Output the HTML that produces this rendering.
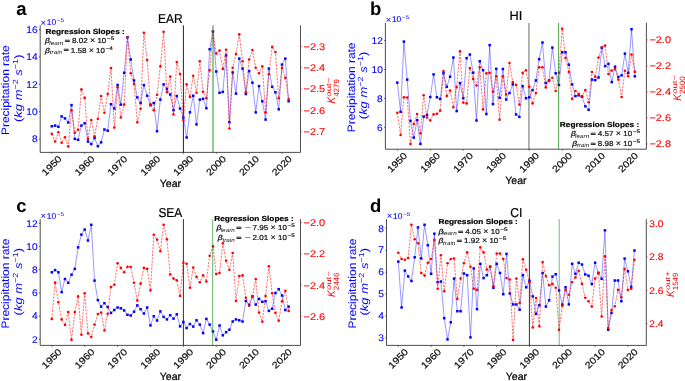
<!DOCTYPE html>
<html><head><meta charset="utf-8"><style>
html,body{margin:0;padding:0;background:#fff;}
svg{display:block;font-family:"Liberation Sans", sans-serif;will-change:transform;transform:translateZ(0);text-rendering:geometricPrecision;}
</style></head><body>
<svg width="685" height="381" viewBox="0 0 685 381">
<rect width="685" height="381" fill="#fff"/>
<line x1="183.40" y1="25.3" x2="183.40" y2="152.4" stroke="#222" stroke-width="1"/>
<polyline points="51.80,126.30 55.09,125.60 58.38,126.80 61.67,116.40 64.96,118.40 68.25,122.50 71.53,105.10 74.82,138.90 78.11,139.80 81.40,125.60 84.69,123.20 87.98,141.50 91.27,144.00 94.56,138.00 97.85,146.20 101.13,142.30 104.42,129.50 107.71,130.70 111.00,104.20 114.29,108.50 117.58,85.00 120.87,104.60 124.16,72.80 127.45,37.30 130.74,59.50 134.03,80.50 137.31,97.40 140.60,103.00 143.89,85.10 147.18,95.70 150.47,105.20 153.76,103.00 157.05,131.20 160.34,99.60 163.63,84.40 166.92,89.00 170.20,94.50 173.49,110.20 176.78,96.00 180.07,108.50 183.36,117.50 186.65,137.50 189.94,112.30 193.23,95.70 196.52,124.40 199.81,99.60 203.09,98.80 206.38,108.20 209.67,49.30 212.96,31.50 216.25,71.50 219.54,92.80 222.83,91.90 226.12,55.40 229.41,122.20 232.69,72.50 235.98,93.60 239.27,58.60 242.56,68.60 245.85,94.00 249.14,71.10 252.43,82.70 255.72,112.40 259.01,86.10 262.30,101.30 265.58,119.60 268.87,68.60 272.16,86.80 275.45,92.30 278.74,109.30 282.03,64.60 285.32,58.60 288.61,101.30" fill="none" stroke="#0000ff" stroke-opacity="0.5" stroke-width="0.8" stroke-linejoin="round"/>
<g fill="#0000ff"><rect x="50.55" y="125.05" width="2.5" height="2.5"/><rect x="53.84" y="124.35" width="2.5" height="2.5"/><rect x="57.13" y="125.55" width="2.5" height="2.5"/><rect x="60.42" y="115.15" width="2.5" height="2.5"/><rect x="63.71" y="117.15" width="2.5" height="2.5"/><rect x="67.00" y="121.25" width="2.5" height="2.5"/><rect x="70.28" y="103.85" width="2.5" height="2.5"/><rect x="73.57" y="137.65" width="2.5" height="2.5"/><rect x="76.86" y="138.55" width="2.5" height="2.5"/><rect x="80.15" y="124.35" width="2.5" height="2.5"/><rect x="83.44" y="121.95" width="2.5" height="2.5"/><rect x="86.73" y="140.25" width="2.5" height="2.5"/><rect x="90.02" y="142.75" width="2.5" height="2.5"/><rect x="93.31" y="136.75" width="2.5" height="2.5"/><rect x="96.60" y="144.95" width="2.5" height="2.5"/><rect x="99.88" y="141.05" width="2.5" height="2.5"/><rect x="103.17" y="128.25" width="2.5" height="2.5"/><rect x="106.46" y="129.45" width="2.5" height="2.5"/><rect x="109.75" y="102.95" width="2.5" height="2.5"/><rect x="113.04" y="107.25" width="2.5" height="2.5"/><rect x="116.33" y="83.75" width="2.5" height="2.5"/><rect x="119.62" y="103.35" width="2.5" height="2.5"/><rect x="122.91" y="71.55" width="2.5" height="2.5"/><rect x="126.20" y="36.05" width="2.5" height="2.5"/><rect x="129.49" y="58.25" width="2.5" height="2.5"/><rect x="132.78" y="79.25" width="2.5" height="2.5"/><rect x="136.06" y="96.15" width="2.5" height="2.5"/><rect x="139.35" y="101.75" width="2.5" height="2.5"/><rect x="142.64" y="83.85" width="2.5" height="2.5"/><rect x="145.93" y="94.45" width="2.5" height="2.5"/><rect x="149.22" y="103.95" width="2.5" height="2.5"/><rect x="152.51" y="101.75" width="2.5" height="2.5"/><rect x="155.80" y="129.95" width="2.5" height="2.5"/><rect x="159.09" y="98.35" width="2.5" height="2.5"/><rect x="162.38" y="83.15" width="2.5" height="2.5"/><rect x="165.67" y="87.75" width="2.5" height="2.5"/><rect x="168.95" y="93.25" width="2.5" height="2.5"/><rect x="172.24" y="108.95" width="2.5" height="2.5"/><rect x="175.53" y="94.75" width="2.5" height="2.5"/><rect x="178.82" y="107.25" width="2.5" height="2.5"/><rect x="182.11" y="116.25" width="2.5" height="2.5"/><rect x="185.40" y="136.25" width="2.5" height="2.5"/><rect x="188.69" y="111.05" width="2.5" height="2.5"/><rect x="191.98" y="94.45" width="2.5" height="2.5"/><rect x="195.27" y="123.15" width="2.5" height="2.5"/><rect x="198.56" y="98.35" width="2.5" height="2.5"/><rect x="201.84" y="97.55" width="2.5" height="2.5"/><rect x="205.13" y="106.95" width="2.5" height="2.5"/><rect x="208.42" y="48.05" width="2.5" height="2.5"/><rect x="211.71" y="30.25" width="2.5" height="2.5"/><rect x="215.00" y="70.25" width="2.5" height="2.5"/><rect x="218.29" y="91.55" width="2.5" height="2.5"/><rect x="221.58" y="90.65" width="2.5" height="2.5"/><rect x="224.87" y="54.15" width="2.5" height="2.5"/><rect x="228.16" y="120.95" width="2.5" height="2.5"/><rect x="231.44" y="71.25" width="2.5" height="2.5"/><rect x="234.73" y="92.35" width="2.5" height="2.5"/><rect x="238.02" y="57.35" width="2.5" height="2.5"/><rect x="241.31" y="67.35" width="2.5" height="2.5"/><rect x="244.60" y="92.75" width="2.5" height="2.5"/><rect x="247.89" y="69.85" width="2.5" height="2.5"/><rect x="251.18" y="81.45" width="2.5" height="2.5"/><rect x="254.47" y="111.15" width="2.5" height="2.5"/><rect x="257.76" y="84.85" width="2.5" height="2.5"/><rect x="261.05" y="100.05" width="2.5" height="2.5"/><rect x="264.33" y="118.35" width="2.5" height="2.5"/><rect x="267.62" y="67.35" width="2.5" height="2.5"/><rect x="270.91" y="85.55" width="2.5" height="2.5"/><rect x="274.20" y="91.05" width="2.5" height="2.5"/><rect x="277.49" y="108.05" width="2.5" height="2.5"/><rect x="280.78" y="63.35" width="2.5" height="2.5"/><rect x="284.07" y="57.35" width="2.5" height="2.5"/><rect x="287.36" y="100.05" width="2.5" height="2.5"/></g>
<polyline points="51.80,133.90 55.09,141.50 58.38,132.20 61.67,142.80 64.96,137.20 68.25,146.40 71.53,110.20 74.82,132.70 78.11,129.80 81.40,89.40 84.69,97.90 87.98,138.90 91.27,120.10 94.56,136.30 97.85,118.70 101.13,96.00 104.42,112.80 107.71,94.00 111.00,68.00 114.29,127.60 117.58,87.30 120.87,117.50 124.16,104.60 127.45,37.00 130.74,73.30 134.03,83.90 137.31,122.20 140.60,108.80 143.89,32.70 147.18,60.00 150.47,104.40 153.76,110.20 157.05,94.80 160.34,66.30 163.63,31.80 166.92,92.30 170.20,76.60 173.49,114.50 176.78,62.10 180.07,74.00 183.36,120.10 186.65,84.30 189.94,96.90 193.23,75.80 196.52,92.80 199.81,61.30 203.09,91.80 206.38,98.20 209.67,70.30 212.96,31.50 216.25,53.60 219.54,50.60 222.83,68.90 226.12,49.80 229.41,128.50 232.69,67.70 235.98,54.00 239.27,34.40 242.56,61.20 245.85,92.30 249.14,59.50 252.43,50.10 255.72,67.70 259.01,73.30 262.30,66.30 265.58,112.40 268.87,74.20 272.16,46.90 275.45,52.00 278.74,98.20 282.03,67.70 285.32,77.90 288.61,99.10" fill="none" stroke="#ff0000" stroke-opacity="0.7" stroke-width="0.8" stroke-dasharray="2.2 1.2"/>
<g fill="#ff0000"><circle cx="51.80" cy="133.90" r="1.3"/><circle cx="55.09" cy="141.50" r="1.3"/><circle cx="58.38" cy="132.20" r="1.3"/><circle cx="61.67" cy="142.80" r="1.3"/><circle cx="64.96" cy="137.20" r="1.3"/><circle cx="68.25" cy="146.40" r="1.3"/><circle cx="71.53" cy="110.20" r="1.3"/><circle cx="74.82" cy="132.70" r="1.3"/><circle cx="78.11" cy="129.80" r="1.3"/><circle cx="81.40" cy="89.40" r="1.3"/><circle cx="84.69" cy="97.90" r="1.3"/><circle cx="87.98" cy="138.90" r="1.3"/><circle cx="91.27" cy="120.10" r="1.3"/><circle cx="94.56" cy="136.30" r="1.3"/><circle cx="97.85" cy="118.70" r="1.3"/><circle cx="101.13" cy="96.00" r="1.3"/><circle cx="104.42" cy="112.80" r="1.3"/><circle cx="107.71" cy="94.00" r="1.3"/><circle cx="111.00" cy="68.00" r="1.3"/><circle cx="114.29" cy="127.60" r="1.3"/><circle cx="117.58" cy="87.30" r="1.3"/><circle cx="120.87" cy="117.50" r="1.3"/><circle cx="124.16" cy="104.60" r="1.3"/><circle cx="127.45" cy="37.00" r="1.3"/><circle cx="130.74" cy="73.30" r="1.3"/><circle cx="134.03" cy="83.90" r="1.3"/><circle cx="137.31" cy="122.20" r="1.3"/><circle cx="140.60" cy="108.80" r="1.3"/><circle cx="143.89" cy="32.70" r="1.3"/><circle cx="147.18" cy="60.00" r="1.3"/><circle cx="150.47" cy="104.40" r="1.3"/><circle cx="153.76" cy="110.20" r="1.3"/><circle cx="157.05" cy="94.80" r="1.3"/><circle cx="160.34" cy="66.30" r="1.3"/><circle cx="163.63" cy="31.80" r="1.3"/><circle cx="166.92" cy="92.30" r="1.3"/><circle cx="170.20" cy="76.60" r="1.3"/><circle cx="173.49" cy="114.50" r="1.3"/><circle cx="176.78" cy="62.10" r="1.3"/><circle cx="180.07" cy="74.00" r="1.3"/><circle cx="183.36" cy="120.10" r="1.3"/><circle cx="186.65" cy="84.30" r="1.3"/><circle cx="189.94" cy="96.90" r="1.3"/><circle cx="193.23" cy="75.80" r="1.3"/><circle cx="196.52" cy="92.80" r="1.3"/><circle cx="199.81" cy="61.30" r="1.3"/><circle cx="203.09" cy="91.80" r="1.3"/><circle cx="206.38" cy="98.20" r="1.3"/><circle cx="209.67" cy="70.30" r="1.3"/><circle cx="212.96" cy="31.50" r="1.3"/><circle cx="216.25" cy="53.60" r="1.3"/><circle cx="219.54" cy="50.60" r="1.3"/><circle cx="222.83" cy="68.90" r="1.3"/><circle cx="226.12" cy="49.80" r="1.3"/><circle cx="229.41" cy="128.50" r="1.3"/><circle cx="232.69" cy="67.70" r="1.3"/><circle cx="235.98" cy="54.00" r="1.3"/><circle cx="239.27" cy="34.40" r="1.3"/><circle cx="242.56" cy="61.20" r="1.3"/><circle cx="245.85" cy="92.30" r="1.3"/><circle cx="249.14" cy="59.50" r="1.3"/><circle cx="252.43" cy="50.10" r="1.3"/><circle cx="255.72" cy="67.70" r="1.3"/><circle cx="259.01" cy="73.30" r="1.3"/><circle cx="262.30" cy="66.30" r="1.3"/><circle cx="265.58" cy="112.40" r="1.3"/><circle cx="268.87" cy="74.20" r="1.3"/><circle cx="272.16" cy="46.90" r="1.3"/><circle cx="275.45" cy="52.00" r="1.3"/><circle cx="278.74" cy="98.20" r="1.3"/><circle cx="282.03" cy="67.70" r="1.3"/><circle cx="285.32" cy="77.90" r="1.3"/><circle cx="288.61" cy="99.10" r="1.3"/></g>
<line x1="213.00" y1="25.3" x2="213.00" y2="152.4" stroke="#008000" stroke-opacity="0.42" stroke-width="2.1"/>
<path d="M40.2,25.3 V152.4 H300.5 V25.3" fill="none" stroke="#3a3a3a" stroke-width="0.9"/>
<line x1="51.80" y1="152.4" x2="51.80" y2="153.9" stroke="#333" stroke-width="0.7"/>
<text x="51.80" y="165.70" font-size="9.3" fill="#111" text-anchor="middle" stroke="#111" stroke-width="0.22" textLength="23.67" lengthAdjust="spacingAndGlyphs" transform="rotate(-45 51.80 165.70)" dominant-baseline="central">1950</text>
<line x1="84.69" y1="152.4" x2="84.69" y2="153.9" stroke="#333" stroke-width="0.7"/>
<text x="84.69" y="165.70" font-size="9.3" fill="#111" text-anchor="middle" stroke="#111" stroke-width="0.22" textLength="23.67" lengthAdjust="spacingAndGlyphs" transform="rotate(-45 84.69 165.70)" dominant-baseline="central">1960</text>
<line x1="117.58" y1="152.4" x2="117.58" y2="153.9" stroke="#333" stroke-width="0.7"/>
<text x="117.58" y="165.70" font-size="9.3" fill="#111" text-anchor="middle" stroke="#111" stroke-width="0.22" textLength="23.67" lengthAdjust="spacingAndGlyphs" transform="rotate(-45 117.58 165.70)" dominant-baseline="central">1970</text>
<line x1="150.47" y1="152.4" x2="150.47" y2="153.9" stroke="#333" stroke-width="0.7"/>
<text x="150.47" y="165.70" font-size="9.3" fill="#111" text-anchor="middle" stroke="#111" stroke-width="0.22" textLength="23.67" lengthAdjust="spacingAndGlyphs" transform="rotate(-45 150.47 165.70)" dominant-baseline="central">1980</text>
<line x1="183.36" y1="152.4" x2="183.36" y2="153.9" stroke="#333" stroke-width="0.7"/>
<text x="183.36" y="165.70" font-size="9.3" fill="#111" text-anchor="middle" stroke="#111" stroke-width="0.22" textLength="23.67" lengthAdjust="spacingAndGlyphs" transform="rotate(-45 183.36 165.70)" dominant-baseline="central">1990</text>
<line x1="216.25" y1="152.4" x2="216.25" y2="153.9" stroke="#333" stroke-width="0.7"/>
<text x="216.25" y="165.70" font-size="9.3" fill="#111" text-anchor="middle" stroke="#111" stroke-width="0.22" textLength="23.67" lengthAdjust="spacingAndGlyphs" transform="rotate(-45 216.25 165.70)" dominant-baseline="central">2000</text>
<line x1="249.14" y1="152.4" x2="249.14" y2="153.9" stroke="#333" stroke-width="0.7"/>
<text x="249.14" y="165.70" font-size="9.3" fill="#111" text-anchor="middle" stroke="#111" stroke-width="0.22" textLength="23.67" lengthAdjust="spacingAndGlyphs" transform="rotate(-45 249.14 165.70)" dominant-baseline="central">2010</text>
<line x1="282.03" y1="152.4" x2="282.03" y2="153.9" stroke="#333" stroke-width="0.7"/>
<text x="282.03" y="165.70" font-size="9.3" fill="#111" text-anchor="middle" stroke="#111" stroke-width="0.22" textLength="23.67" lengthAdjust="spacingAndGlyphs" transform="rotate(-45 282.03 165.70)" dominant-baseline="central">2020</text>
<line x1="39.0" y1="139.10" x2="40.2" y2="139.10" stroke="#0000ff" stroke-width="0.7"/>
<text x="37.60" y="142.30" font-size="9.7" fill="#0000ff" text-anchor="end" stroke="#0000ff" stroke-width="0.12" textLength="5.66" lengthAdjust="spacingAndGlyphs">8</text>
<line x1="39.0" y1="111.72" x2="40.2" y2="111.72" stroke="#0000ff" stroke-width="0.7"/>
<text x="37.60" y="114.92" font-size="9.7" fill="#0000ff" text-anchor="end" stroke="#0000ff" stroke-width="0.12" textLength="11.33" lengthAdjust="spacingAndGlyphs">10</text>
<line x1="39.0" y1="84.35" x2="40.2" y2="84.35" stroke="#0000ff" stroke-width="0.7"/>
<text x="37.60" y="87.55" font-size="9.7" fill="#0000ff" text-anchor="end" stroke="#0000ff" stroke-width="0.12" textLength="11.33" lengthAdjust="spacingAndGlyphs">12</text>
<line x1="39.0" y1="56.98" x2="40.2" y2="56.98" stroke="#0000ff" stroke-width="0.7"/>
<text x="37.60" y="60.18" font-size="9.7" fill="#0000ff" text-anchor="end" stroke="#0000ff" stroke-width="0.12" textLength="11.33" lengthAdjust="spacingAndGlyphs">14</text>
<line x1="39.0" y1="29.60" x2="40.2" y2="29.60" stroke="#0000ff" stroke-width="0.7"/>
<text x="37.60" y="32.80" font-size="9.7" fill="#0000ff" text-anchor="end" stroke="#0000ff" stroke-width="0.12" textLength="11.33" lengthAdjust="spacingAndGlyphs">16</text>
<line x1="300.5" y1="46.30" x2="301.7" y2="46.30" stroke="#ff0000" stroke-width="0.7"/>
<text x="303.50" y="49.80" font-size="9.7" fill="#ff0000" text-anchor="start" stroke="#ff0000" stroke-width="0.12" textLength="21.61" lengthAdjust="spacingAndGlyphs">−2.3</text>
<line x1="300.5" y1="67.62" x2="301.7" y2="67.62" stroke="#ff0000" stroke-width="0.7"/>
<text x="303.50" y="71.12" font-size="9.7" fill="#ff0000" text-anchor="start" stroke="#ff0000" stroke-width="0.12" textLength="21.61" lengthAdjust="spacingAndGlyphs">−2.4</text>
<line x1="300.5" y1="88.95" x2="301.7" y2="88.95" stroke="#ff0000" stroke-width="0.7"/>
<text x="303.50" y="92.45" font-size="9.7" fill="#ff0000" text-anchor="start" stroke="#ff0000" stroke-width="0.12" textLength="21.61" lengthAdjust="spacingAndGlyphs">−2.5</text>
<line x1="300.5" y1="110.27" x2="301.7" y2="110.27" stroke="#ff0000" stroke-width="0.7"/>
<text x="303.50" y="113.77" font-size="9.7" fill="#ff0000" text-anchor="start" stroke="#ff0000" stroke-width="0.12" textLength="21.61" lengthAdjust="spacingAndGlyphs">−2.6</text>
<line x1="300.5" y1="131.60" x2="301.7" y2="131.60" stroke="#ff0000" stroke-width="0.7"/>
<text x="303.50" y="135.10" font-size="9.7" fill="#ff0000" text-anchor="start" stroke="#ff0000" stroke-width="0.12" textLength="21.61" lengthAdjust="spacingAndGlyphs">−2.7</text>
<text x="170.35" y="22.70" font-size="12.9" fill="#000" text-anchor="middle" stroke="#000" stroke-width="0.22" textLength="24.53" lengthAdjust="spacingAndGlyphs">EAR</text>
<text x="170.35" y="186.80" font-size="10.6" fill="#000" text-anchor="middle" stroke="#000" stroke-width="0.22">Year</text>
<text x="16.20" y="14.80" font-size="18.5" fill="#000" text-anchor="start" font-weight="bold">a</text>
<text x="40.50" y="25.50" font-size="9.6" fill="#0000ff" textLength="5.6" lengthAdjust="spacingAndGlyphs">×</text>
<text x="46.70" y="24.70" font-size="8.4" fill="#0000ff" stroke="#0000ff" stroke-width="0.1" textLength="9.4" lengthAdjust="spacingAndGlyphs">10</text>
<text x="56.60" y="21.80" font-size="5.6" fill="#0000ff" textLength="7.6" lengthAdjust="spacingAndGlyphs">−5</text>
<text x="9.40" y="90.15" font-size="10.8" fill="#0000ff" text-anchor="middle" stroke="#0000ff" stroke-width="0.05" textLength="89.80" lengthAdjust="spacingAndGlyphs" transform="rotate(-90 9.40 90.15)">Precipitation rate</text>
<text x="22.00" y="88.25" font-size="10.8" fill="#0000ff" text-anchor="middle" textLength="67.5" lengthAdjust="spacingAndGlyphs" transform="rotate(-90 22.00 88.25)">(<tspan font-style="italic">kg m</tspan><tspan font-size="7.5" dy="-4">−2</tspan><tspan dy="4"> </tspan><tspan font-style="italic">s</tspan><tspan font-size="7.5" dy="-4">−1</tspan><tspan dy="4">)</tspan></text>
<g transform="translate(335.00 88.85) rotate(-90)" fill="#ff0000"><text x="-14.6" y="0" font-size="11" font-style="italic" textLength="6.6" lengthAdjust="spacingAndGlyphs">K</text><text x="-7.8" y="-4.3" font-size="6.6" textLength="19.0" lengthAdjust="spacingAndGlyphs">out−</text><text x="-8.0" y="3.9" font-size="7.7" textLength="17.8" lengthAdjust="spacingAndGlyphs">4279</text></g>
<line x1="528.90" y1="22.9" x2="528.90" y2="149.2" stroke="#8c8c8c" stroke-width="1.3"/>
<polyline points="397.30,82.60 400.60,111.80 403.90,41.60 407.20,79.60 410.50,120.90 413.80,137.60 417.09,120.00 420.39,143.90 423.69,116.60 426.99,114.90 430.29,97.00 433.59,74.40 436.89,97.30 440.19,99.00 443.49,73.20 446.79,86.80 450.08,76.70 453.38,57.50 456.68,111.10 459.98,83.10 463.28,98.30 466.58,58.20 469.88,54.50 473.18,72.70 476.48,120.50 479.77,61.30 483.07,70.20 486.37,114.00 489.67,45.10 492.97,104.10 496.27,68.80 499.57,97.80 502.87,69.00 506.17,99.50 509.47,93.00 512.76,84.30 516.06,114.40 519.36,116.90 522.66,86.20 525.96,98.30 529.26,97.30 532.56,90.10 535.86,80.50 539.16,59.20 542.46,42.50 545.75,83.10 549.05,80.60 552.35,47.60 555.65,73.30 558.95,85.00 562.25,52.30 565.55,52.30 568.85,64.70 572.15,84.40 575.45,96.10 578.75,95.30 582.04,96.80 585.34,106.30 588.64,109.80 591.94,79.60 595.24,80.10 598.54,77.50 601.84,47.80 605.14,66.10 608.44,63.80 611.74,82.10 615.03,66.70 618.33,77.00 621.63,75.30 624.93,53.60 628.23,72.90 631.53,29.20 634.83,76.30" fill="none" stroke="#0000ff" stroke-opacity="0.5" stroke-width="0.8" stroke-linejoin="round"/>
<g fill="#0000ff"><rect x="396.05" y="81.35" width="2.5" height="2.5"/><rect x="399.35" y="110.55" width="2.5" height="2.5"/><rect x="402.65" y="40.35" width="2.5" height="2.5"/><rect x="405.95" y="78.35" width="2.5" height="2.5"/><rect x="409.25" y="119.65" width="2.5" height="2.5"/><rect x="412.55" y="136.35" width="2.5" height="2.5"/><rect x="415.84" y="118.75" width="2.5" height="2.5"/><rect x="419.14" y="142.65" width="2.5" height="2.5"/><rect x="422.44" y="115.35" width="2.5" height="2.5"/><rect x="425.74" y="113.65" width="2.5" height="2.5"/><rect x="429.04" y="95.75" width="2.5" height="2.5"/><rect x="432.34" y="73.15" width="2.5" height="2.5"/><rect x="435.64" y="96.05" width="2.5" height="2.5"/><rect x="438.94" y="97.75" width="2.5" height="2.5"/><rect x="442.24" y="71.95" width="2.5" height="2.5"/><rect x="445.54" y="85.55" width="2.5" height="2.5"/><rect x="448.83" y="75.45" width="2.5" height="2.5"/><rect x="452.13" y="56.25" width="2.5" height="2.5"/><rect x="455.43" y="109.85" width="2.5" height="2.5"/><rect x="458.73" y="81.85" width="2.5" height="2.5"/><rect x="462.03" y="97.05" width="2.5" height="2.5"/><rect x="465.33" y="56.95" width="2.5" height="2.5"/><rect x="468.63" y="53.25" width="2.5" height="2.5"/><rect x="471.93" y="71.45" width="2.5" height="2.5"/><rect x="475.23" y="119.25" width="2.5" height="2.5"/><rect x="478.52" y="60.05" width="2.5" height="2.5"/><rect x="481.82" y="68.95" width="2.5" height="2.5"/><rect x="485.12" y="112.75" width="2.5" height="2.5"/><rect x="488.42" y="43.85" width="2.5" height="2.5"/><rect x="491.72" y="102.85" width="2.5" height="2.5"/><rect x="495.02" y="67.55" width="2.5" height="2.5"/><rect x="498.32" y="96.55" width="2.5" height="2.5"/><rect x="501.62" y="67.75" width="2.5" height="2.5"/><rect x="504.92" y="98.25" width="2.5" height="2.5"/><rect x="508.22" y="91.75" width="2.5" height="2.5"/><rect x="511.51" y="83.05" width="2.5" height="2.5"/><rect x="514.81" y="113.15" width="2.5" height="2.5"/><rect x="518.11" y="115.65" width="2.5" height="2.5"/><rect x="521.41" y="84.95" width="2.5" height="2.5"/><rect x="524.71" y="97.05" width="2.5" height="2.5"/><rect x="528.01" y="96.05" width="2.5" height="2.5"/><rect x="531.31" y="88.85" width="2.5" height="2.5"/><rect x="534.61" y="79.25" width="2.5" height="2.5"/><rect x="537.91" y="57.95" width="2.5" height="2.5"/><rect x="541.21" y="41.25" width="2.5" height="2.5"/><rect x="544.50" y="81.85" width="2.5" height="2.5"/><rect x="547.80" y="79.35" width="2.5" height="2.5"/><rect x="551.10" y="46.35" width="2.5" height="2.5"/><rect x="554.40" y="72.05" width="2.5" height="2.5"/><rect x="557.70" y="83.75" width="2.5" height="2.5"/><rect x="561.00" y="51.05" width="2.5" height="2.5"/><rect x="564.30" y="51.05" width="2.5" height="2.5"/><rect x="567.60" y="63.45" width="2.5" height="2.5"/><rect x="570.90" y="83.15" width="2.5" height="2.5"/><rect x="574.20" y="94.85" width="2.5" height="2.5"/><rect x="577.50" y="94.05" width="2.5" height="2.5"/><rect x="580.79" y="95.55" width="2.5" height="2.5"/><rect x="584.09" y="105.05" width="2.5" height="2.5"/><rect x="587.39" y="108.55" width="2.5" height="2.5"/><rect x="590.69" y="78.35" width="2.5" height="2.5"/><rect x="593.99" y="78.85" width="2.5" height="2.5"/><rect x="597.29" y="76.25" width="2.5" height="2.5"/><rect x="600.59" y="46.55" width="2.5" height="2.5"/><rect x="603.89" y="64.85" width="2.5" height="2.5"/><rect x="607.19" y="62.55" width="2.5" height="2.5"/><rect x="610.49" y="80.85" width="2.5" height="2.5"/><rect x="613.78" y="65.45" width="2.5" height="2.5"/><rect x="617.08" y="75.75" width="2.5" height="2.5"/><rect x="620.38" y="74.05" width="2.5" height="2.5"/><rect x="623.68" y="52.35" width="2.5" height="2.5"/><rect x="626.98" y="71.65" width="2.5" height="2.5"/><rect x="630.28" y="27.95" width="2.5" height="2.5"/><rect x="633.58" y="75.05" width="2.5" height="2.5"/></g>
<polyline points="397.30,112.70 400.60,135.00 403.90,97.30 407.20,97.50 410.50,143.90 413.80,123.90 417.09,114.00 420.39,133.30 423.69,95.20 426.99,117.50 430.29,120.40 433.59,114.40 436.89,113.70 440.19,110.60 443.49,71.00 446.79,96.10 450.08,90.50 453.38,107.20 456.68,87.00 459.98,51.40 463.28,102.60 466.58,103.40 469.88,68.10 473.18,78.90 476.48,85.50 479.77,67.30 483.07,109.40 486.37,73.20 489.67,72.70 492.97,91.80 496.27,76.30 499.57,119.70 502.87,76.30 506.17,94.40 509.47,63.00 512.76,82.10 516.06,84.90 519.36,104.60 522.66,72.90 525.96,70.20 529.26,86.80 532.56,103.40 535.86,93.10 539.16,67.20 542.46,67.20 545.75,87.40 549.05,80.30 552.35,77.80 555.65,91.00 558.95,72.70 562.25,28.80 565.55,57.90 568.85,72.00 572.15,98.90 575.45,91.00 578.75,93.90 582.04,96.30 585.34,90.10 588.64,102.20 591.94,72.00 595.24,76.70 598.54,57.50 601.84,47.30 605.14,45.60 608.44,74.10 611.74,70.50 615.03,69.00 618.33,79.60 621.63,97.00 624.93,70.70 628.23,76.30 631.53,54.50 634.83,71.90" fill="none" stroke="#ff0000" stroke-opacity="0.7" stroke-width="0.8" stroke-dasharray="2.2 1.2"/>
<g fill="#ff0000"><circle cx="397.30" cy="112.70" r="1.3"/><circle cx="400.60" cy="135.00" r="1.3"/><circle cx="403.90" cy="97.30" r="1.3"/><circle cx="407.20" cy="97.50" r="1.3"/><circle cx="410.50" cy="143.90" r="1.3"/><circle cx="413.80" cy="123.90" r="1.3"/><circle cx="417.09" cy="114.00" r="1.3"/><circle cx="420.39" cy="133.30" r="1.3"/><circle cx="423.69" cy="95.20" r="1.3"/><circle cx="426.99" cy="117.50" r="1.3"/><circle cx="430.29" cy="120.40" r="1.3"/><circle cx="433.59" cy="114.40" r="1.3"/><circle cx="436.89" cy="113.70" r="1.3"/><circle cx="440.19" cy="110.60" r="1.3"/><circle cx="443.49" cy="71.00" r="1.3"/><circle cx="446.79" cy="96.10" r="1.3"/><circle cx="450.08" cy="90.50" r="1.3"/><circle cx="453.38" cy="107.20" r="1.3"/><circle cx="456.68" cy="87.00" r="1.3"/><circle cx="459.98" cy="51.40" r="1.3"/><circle cx="463.28" cy="102.60" r="1.3"/><circle cx="466.58" cy="103.40" r="1.3"/><circle cx="469.88" cy="68.10" r="1.3"/><circle cx="473.18" cy="78.90" r="1.3"/><circle cx="476.48" cy="85.50" r="1.3"/><circle cx="479.77" cy="67.30" r="1.3"/><circle cx="483.07" cy="109.40" r="1.3"/><circle cx="486.37" cy="73.20" r="1.3"/><circle cx="489.67" cy="72.70" r="1.3"/><circle cx="492.97" cy="91.80" r="1.3"/><circle cx="496.27" cy="76.30" r="1.3"/><circle cx="499.57" cy="119.70" r="1.3"/><circle cx="502.87" cy="76.30" r="1.3"/><circle cx="506.17" cy="94.40" r="1.3"/><circle cx="509.47" cy="63.00" r="1.3"/><circle cx="512.76" cy="82.10" r="1.3"/><circle cx="516.06" cy="84.90" r="1.3"/><circle cx="519.36" cy="104.60" r="1.3"/><circle cx="522.66" cy="72.90" r="1.3"/><circle cx="525.96" cy="70.20" r="1.3"/><circle cx="529.26" cy="86.80" r="1.3"/><circle cx="532.56" cy="103.40" r="1.3"/><circle cx="535.86" cy="93.10" r="1.3"/><circle cx="539.16" cy="67.20" r="1.3"/><circle cx="542.46" cy="67.20" r="1.3"/><circle cx="545.75" cy="87.40" r="1.3"/><circle cx="549.05" cy="80.30" r="1.3"/><circle cx="552.35" cy="77.80" r="1.3"/><circle cx="555.65" cy="91.00" r="1.3"/><circle cx="558.95" cy="72.70" r="1.3"/><circle cx="562.25" cy="28.80" r="1.3"/><circle cx="565.55" cy="57.90" r="1.3"/><circle cx="568.85" cy="72.00" r="1.3"/><circle cx="572.15" cy="98.90" r="1.3"/><circle cx="575.45" cy="91.00" r="1.3"/><circle cx="578.75" cy="93.90" r="1.3"/><circle cx="582.04" cy="96.30" r="1.3"/><circle cx="585.34" cy="90.10" r="1.3"/><circle cx="588.64" cy="102.20" r="1.3"/><circle cx="591.94" cy="72.00" r="1.3"/><circle cx="595.24" cy="76.70" r="1.3"/><circle cx="598.54" cy="57.50" r="1.3"/><circle cx="601.84" cy="47.30" r="1.3"/><circle cx="605.14" cy="45.60" r="1.3"/><circle cx="608.44" cy="74.10" r="1.3"/><circle cx="611.74" cy="70.50" r="1.3"/><circle cx="615.03" cy="69.00" r="1.3"/><circle cx="618.33" cy="79.60" r="1.3"/><circle cx="621.63" cy="97.00" r="1.3"/><circle cx="624.93" cy="70.70" r="1.3"/><circle cx="628.23" cy="76.30" r="1.3"/><circle cx="631.53" cy="54.50" r="1.3"/><circle cx="634.83" cy="71.90" r="1.3"/></g>
<line x1="558.60" y1="22.9" x2="558.60" y2="149.2" stroke="#008000" stroke-opacity="0.7" stroke-width="1.0"/>
<path d="M385.4,22.9 V149.2 H646.4 V22.9" fill="none" stroke="#3a3a3a" stroke-width="0.9"/>
<line x1="397.30" y1="149.2" x2="397.30" y2="150.7" stroke="#333" stroke-width="0.7"/>
<text x="397.30" y="162.50" font-size="9.3" fill="#111" text-anchor="middle" stroke="#111" stroke-width="0.22" textLength="23.67" lengthAdjust="spacingAndGlyphs" transform="rotate(-45 397.30 162.50)" dominant-baseline="central">1950</text>
<line x1="430.29" y1="149.2" x2="430.29" y2="150.7" stroke="#333" stroke-width="0.7"/>
<text x="430.29" y="162.50" font-size="9.3" fill="#111" text-anchor="middle" stroke="#111" stroke-width="0.22" textLength="23.67" lengthAdjust="spacingAndGlyphs" transform="rotate(-45 430.29 162.50)" dominant-baseline="central">1960</text>
<line x1="463.28" y1="149.2" x2="463.28" y2="150.7" stroke="#333" stroke-width="0.7"/>
<text x="463.28" y="162.50" font-size="9.3" fill="#111" text-anchor="middle" stroke="#111" stroke-width="0.22" textLength="23.67" lengthAdjust="spacingAndGlyphs" transform="rotate(-45 463.28 162.50)" dominant-baseline="central">1970</text>
<line x1="496.27" y1="149.2" x2="496.27" y2="150.7" stroke="#333" stroke-width="0.7"/>
<text x="496.27" y="162.50" font-size="9.3" fill="#111" text-anchor="middle" stroke="#111" stroke-width="0.22" textLength="23.67" lengthAdjust="spacingAndGlyphs" transform="rotate(-45 496.27 162.50)" dominant-baseline="central">1980</text>
<line x1="529.26" y1="149.2" x2="529.26" y2="150.7" stroke="#333" stroke-width="0.7"/>
<text x="529.26" y="162.50" font-size="9.3" fill="#111" text-anchor="middle" stroke="#111" stroke-width="0.22" textLength="23.67" lengthAdjust="spacingAndGlyphs" transform="rotate(-45 529.26 162.50)" dominant-baseline="central">1990</text>
<line x1="562.25" y1="149.2" x2="562.25" y2="150.7" stroke="#333" stroke-width="0.7"/>
<text x="562.25" y="162.50" font-size="9.3" fill="#111" text-anchor="middle" stroke="#111" stroke-width="0.22" textLength="23.67" lengthAdjust="spacingAndGlyphs" transform="rotate(-45 562.25 162.50)" dominant-baseline="central">2000</text>
<line x1="595.24" y1="149.2" x2="595.24" y2="150.7" stroke="#333" stroke-width="0.7"/>
<text x="595.24" y="162.50" font-size="9.3" fill="#111" text-anchor="middle" stroke="#111" stroke-width="0.22" textLength="23.67" lengthAdjust="spacingAndGlyphs" transform="rotate(-45 595.24 162.50)" dominant-baseline="central">2010</text>
<line x1="628.23" y1="149.2" x2="628.23" y2="150.7" stroke="#333" stroke-width="0.7"/>
<text x="628.23" y="162.50" font-size="9.3" fill="#111" text-anchor="middle" stroke="#111" stroke-width="0.22" textLength="23.67" lengthAdjust="spacingAndGlyphs" transform="rotate(-45 628.23 162.50)" dominant-baseline="central">2020</text>
<line x1="384.2" y1="127.30" x2="385.4" y2="127.30" stroke="#0000ff" stroke-width="0.7"/>
<text x="382.80" y="130.50" font-size="9.7" fill="#0000ff" text-anchor="end" stroke="#0000ff" stroke-width="0.12" textLength="5.66" lengthAdjust="spacingAndGlyphs">6</text>
<line x1="384.2" y1="98.40" x2="385.4" y2="98.40" stroke="#0000ff" stroke-width="0.7"/>
<text x="382.80" y="101.60" font-size="9.7" fill="#0000ff" text-anchor="end" stroke="#0000ff" stroke-width="0.12" textLength="5.66" lengthAdjust="spacingAndGlyphs">8</text>
<line x1="384.2" y1="69.50" x2="385.4" y2="69.50" stroke="#0000ff" stroke-width="0.7"/>
<text x="382.80" y="72.70" font-size="9.7" fill="#0000ff" text-anchor="end" stroke="#0000ff" stroke-width="0.12" textLength="11.33" lengthAdjust="spacingAndGlyphs">10</text>
<line x1="384.2" y1="40.60" x2="385.4" y2="40.60" stroke="#0000ff" stroke-width="0.7"/>
<text x="382.80" y="43.80" font-size="9.7" fill="#0000ff" text-anchor="end" stroke="#0000ff" stroke-width="0.12" textLength="11.33" lengthAdjust="spacingAndGlyphs">12</text>
<line x1="646.4" y1="39.90" x2="647.6" y2="39.90" stroke="#ff0000" stroke-width="0.7"/>
<text x="649.40" y="43.40" font-size="9.7" fill="#ff0000" text-anchor="start" stroke="#ff0000" stroke-width="0.12" textLength="21.61" lengthAdjust="spacingAndGlyphs">−2.0</text>
<line x1="646.4" y1="65.90" x2="647.6" y2="65.90" stroke="#ff0000" stroke-width="0.7"/>
<text x="649.40" y="69.40" font-size="9.7" fill="#ff0000" text-anchor="start" stroke="#ff0000" stroke-width="0.12" textLength="21.61" lengthAdjust="spacingAndGlyphs">−2.2</text>
<line x1="646.4" y1="91.90" x2="647.6" y2="91.90" stroke="#ff0000" stroke-width="0.7"/>
<text x="649.40" y="95.40" font-size="9.7" fill="#ff0000" text-anchor="start" stroke="#ff0000" stroke-width="0.12" textLength="21.61" lengthAdjust="spacingAndGlyphs">−2.4</text>
<line x1="646.4" y1="117.90" x2="647.6" y2="117.90" stroke="#ff0000" stroke-width="0.7"/>
<text x="649.40" y="121.40" font-size="9.7" fill="#ff0000" text-anchor="start" stroke="#ff0000" stroke-width="0.12" textLength="21.61" lengthAdjust="spacingAndGlyphs">−2.6</text>
<line x1="646.4" y1="143.90" x2="647.6" y2="143.90" stroke="#ff0000" stroke-width="0.7"/>
<text x="649.40" y="147.40" font-size="9.7" fill="#ff0000" text-anchor="start" stroke="#ff0000" stroke-width="0.12" textLength="21.61" lengthAdjust="spacingAndGlyphs">−2.8</text>
<text x="515.90" y="20.30" font-size="12.9" fill="#000" text-anchor="middle" stroke="#000" stroke-width="0.22" textLength="12.77" lengthAdjust="spacingAndGlyphs">HI</text>
<text x="515.90" y="183.60" font-size="10.6" fill="#000" text-anchor="middle" stroke="#000" stroke-width="0.22">Year</text>
<text x="370.00" y="14.80" font-size="18.5" fill="#000" text-anchor="start" font-weight="bold">b</text>
<text x="385.70" y="23.10" font-size="9.6" fill="#0000ff" textLength="5.6" lengthAdjust="spacingAndGlyphs">×</text>
<text x="391.90" y="22.30" font-size="8.4" fill="#0000ff" stroke="#0000ff" stroke-width="0.1" textLength="9.4" lengthAdjust="spacingAndGlyphs">10</text>
<text x="401.80" y="19.40" font-size="5.6" fill="#0000ff" textLength="7.6" lengthAdjust="spacingAndGlyphs">−5</text>
<text x="354.60" y="87.35" font-size="10.8" fill="#0000ff" text-anchor="middle" stroke="#0000ff" stroke-width="0.05" textLength="89.80" lengthAdjust="spacingAndGlyphs" transform="rotate(-90 354.60 87.35)">Precipitation rate</text>
<text x="367.20" y="85.45" font-size="10.8" fill="#0000ff" text-anchor="middle" textLength="67.5" lengthAdjust="spacingAndGlyphs" transform="rotate(-90 367.20 85.45)">(<tspan font-style="italic">kg m</tspan><tspan font-size="7.5" dy="-4">−2</tspan><tspan dy="4"> </tspan><tspan font-style="italic">s</tspan><tspan font-size="7.5" dy="-4">−1</tspan><tspan dy="4">)</tspan></text>
<g transform="translate(680.90 86.05) rotate(-90)" fill="#ff0000"><text x="-14.6" y="0" font-size="11" font-style="italic" textLength="6.6" lengthAdjust="spacingAndGlyphs">K</text><text x="-7.8" y="-4.3" font-size="6.6" textLength="19.0" lengthAdjust="spacingAndGlyphs">out−</text><text x="-8.0" y="3.9" font-size="7.7" textLength="17.8" lengthAdjust="spacingAndGlyphs">2500</text></g>
<line x1="183.40" y1="219.2" x2="183.40" y2="345.4" stroke="#333" stroke-width="1"/>
<polyline points="51.80,272.30 55.09,270.10 58.38,272.30 61.67,292.10 64.96,279.00 68.25,282.80 71.53,274.70 74.82,268.90 78.11,247.40 81.40,234.60 84.69,229.60 87.98,240.50 91.27,224.80 94.56,280.60 97.85,300.10 101.13,306.60 104.42,303.20 107.71,307.00 111.00,312.90 114.29,310.00 117.58,307.50 120.87,308.30 124.16,310.40 127.45,314.80 130.74,315.50 134.03,311.70 137.31,305.40 140.60,309.20 143.89,313.50 147.18,307.50 150.47,325.40 153.76,316.20 157.05,320.50 160.34,311.40 163.63,316.90 166.92,319.40 170.20,315.20 173.49,318.60 176.78,314.30 180.07,326.30 183.36,322.00 186.65,328.00 189.94,324.00 193.23,326.60 196.52,320.30 199.81,324.60 203.09,333.10 206.38,318.90 209.67,324.60 212.96,331.40 216.25,339.70 219.54,325.50 222.83,335.30 226.12,332.20 229.41,329.70 232.69,321.50 235.98,319.40 239.27,320.30 242.56,321.50 245.85,301.00 249.14,304.90 252.43,296.40 255.72,304.60 259.01,298.90 262.30,301.80 265.58,301.20 268.87,310.90 272.16,308.70 275.45,293.00 278.74,289.20 282.03,295.50 285.32,310.00 288.61,306.60" fill="none" stroke="#0000ff" stroke-opacity="0.5" stroke-width="0.8" stroke-linejoin="round"/>
<g fill="#0000ff"><rect x="50.55" y="271.05" width="2.5" height="2.5"/><rect x="53.84" y="268.85" width="2.5" height="2.5"/><rect x="57.13" y="271.05" width="2.5" height="2.5"/><rect x="60.42" y="290.85" width="2.5" height="2.5"/><rect x="63.71" y="277.75" width="2.5" height="2.5"/><rect x="67.00" y="281.55" width="2.5" height="2.5"/><rect x="70.28" y="273.45" width="2.5" height="2.5"/><rect x="73.57" y="267.65" width="2.5" height="2.5"/><rect x="76.86" y="246.15" width="2.5" height="2.5"/><rect x="80.15" y="233.35" width="2.5" height="2.5"/><rect x="83.44" y="228.35" width="2.5" height="2.5"/><rect x="86.73" y="239.25" width="2.5" height="2.5"/><rect x="90.02" y="223.55" width="2.5" height="2.5"/><rect x="93.31" y="279.35" width="2.5" height="2.5"/><rect x="96.60" y="298.85" width="2.5" height="2.5"/><rect x="99.88" y="305.35" width="2.5" height="2.5"/><rect x="103.17" y="301.95" width="2.5" height="2.5"/><rect x="106.46" y="305.75" width="2.5" height="2.5"/><rect x="109.75" y="311.65" width="2.5" height="2.5"/><rect x="113.04" y="308.75" width="2.5" height="2.5"/><rect x="116.33" y="306.25" width="2.5" height="2.5"/><rect x="119.62" y="307.05" width="2.5" height="2.5"/><rect x="122.91" y="309.15" width="2.5" height="2.5"/><rect x="126.20" y="313.55" width="2.5" height="2.5"/><rect x="129.49" y="314.25" width="2.5" height="2.5"/><rect x="132.78" y="310.45" width="2.5" height="2.5"/><rect x="136.06" y="304.15" width="2.5" height="2.5"/><rect x="139.35" y="307.95" width="2.5" height="2.5"/><rect x="142.64" y="312.25" width="2.5" height="2.5"/><rect x="145.93" y="306.25" width="2.5" height="2.5"/><rect x="149.22" y="324.15" width="2.5" height="2.5"/><rect x="152.51" y="314.95" width="2.5" height="2.5"/><rect x="155.80" y="319.25" width="2.5" height="2.5"/><rect x="159.09" y="310.15" width="2.5" height="2.5"/><rect x="162.38" y="315.65" width="2.5" height="2.5"/><rect x="165.67" y="318.15" width="2.5" height="2.5"/><rect x="168.95" y="313.95" width="2.5" height="2.5"/><rect x="172.24" y="317.35" width="2.5" height="2.5"/><rect x="175.53" y="313.05" width="2.5" height="2.5"/><rect x="178.82" y="325.05" width="2.5" height="2.5"/><rect x="182.11" y="320.75" width="2.5" height="2.5"/><rect x="185.40" y="326.75" width="2.5" height="2.5"/><rect x="188.69" y="322.75" width="2.5" height="2.5"/><rect x="191.98" y="325.35" width="2.5" height="2.5"/><rect x="195.27" y="319.05" width="2.5" height="2.5"/><rect x="198.56" y="323.35" width="2.5" height="2.5"/><rect x="201.84" y="331.85" width="2.5" height="2.5"/><rect x="205.13" y="317.65" width="2.5" height="2.5"/><rect x="208.42" y="323.35" width="2.5" height="2.5"/><rect x="211.71" y="330.15" width="2.5" height="2.5"/><rect x="215.00" y="338.45" width="2.5" height="2.5"/><rect x="218.29" y="324.25" width="2.5" height="2.5"/><rect x="221.58" y="334.05" width="2.5" height="2.5"/><rect x="224.87" y="330.95" width="2.5" height="2.5"/><rect x="228.16" y="328.45" width="2.5" height="2.5"/><rect x="231.44" y="320.25" width="2.5" height="2.5"/><rect x="234.73" y="318.15" width="2.5" height="2.5"/><rect x="238.02" y="319.05" width="2.5" height="2.5"/><rect x="241.31" y="320.25" width="2.5" height="2.5"/><rect x="244.60" y="299.75" width="2.5" height="2.5"/><rect x="247.89" y="303.65" width="2.5" height="2.5"/><rect x="251.18" y="295.15" width="2.5" height="2.5"/><rect x="254.47" y="303.35" width="2.5" height="2.5"/><rect x="257.76" y="297.65" width="2.5" height="2.5"/><rect x="261.05" y="300.55" width="2.5" height="2.5"/><rect x="264.33" y="299.95" width="2.5" height="2.5"/><rect x="267.62" y="309.65" width="2.5" height="2.5"/><rect x="270.91" y="307.45" width="2.5" height="2.5"/><rect x="274.20" y="291.75" width="2.5" height="2.5"/><rect x="277.49" y="287.95" width="2.5" height="2.5"/><rect x="280.78" y="294.25" width="2.5" height="2.5"/><rect x="284.07" y="308.75" width="2.5" height="2.5"/><rect x="287.36" y="305.35" width="2.5" height="2.5"/></g>
<polyline points="51.80,318.90 55.09,282.60 58.38,302.30 61.67,319.40 64.96,324.90 68.25,312.10 71.53,339.90 74.82,312.10 78.11,296.40 81.40,334.80 84.69,293.30 87.98,333.40 91.27,337.00 94.56,324.60 97.85,314.00 101.13,312.60 104.42,330.50 107.71,313.80 111.00,287.00 114.29,284.80 117.58,263.30 120.87,267.90 124.16,272.30 127.45,266.70 130.74,267.00 134.03,282.70 137.31,300.60 140.60,283.60 143.89,267.90 147.18,268.90 150.47,290.40 153.76,234.70 157.05,239.60 160.34,251.30 163.63,224.80 166.92,239.30 170.20,274.40 173.49,278.60 176.78,280.30 180.07,296.00 183.36,262.70 186.65,263.80 189.94,287.80 193.23,267.50 196.52,276.90 199.81,282.30 203.09,275.20 206.38,281.50 209.67,255.70 212.96,246.40 216.25,274.00 219.54,273.10 222.83,243.30 226.12,260.70 229.41,269.70 232.69,253.00 235.98,301.00 239.27,276.10 242.56,275.40 245.85,297.70 249.14,305.80 252.43,296.40 255.72,279.10 259.01,312.60 262.30,321.80 265.58,296.00 268.87,266.20 272.16,293.30 275.45,312.90 278.74,320.80 282.03,301.20 285.32,290.70 288.61,310.90" fill="none" stroke="#ff0000" stroke-opacity="0.7" stroke-width="0.8" stroke-dasharray="2.2 1.2"/>
<g fill="#ff0000"><circle cx="51.80" cy="318.90" r="1.3"/><circle cx="55.09" cy="282.60" r="1.3"/><circle cx="58.38" cy="302.30" r="1.3"/><circle cx="61.67" cy="319.40" r="1.3"/><circle cx="64.96" cy="324.90" r="1.3"/><circle cx="68.25" cy="312.10" r="1.3"/><circle cx="71.53" cy="339.90" r="1.3"/><circle cx="74.82" cy="312.10" r="1.3"/><circle cx="78.11" cy="296.40" r="1.3"/><circle cx="81.40" cy="334.80" r="1.3"/><circle cx="84.69" cy="293.30" r="1.3"/><circle cx="87.98" cy="333.40" r="1.3"/><circle cx="91.27" cy="337.00" r="1.3"/><circle cx="94.56" cy="324.60" r="1.3"/><circle cx="97.85" cy="314.00" r="1.3"/><circle cx="101.13" cy="312.60" r="1.3"/><circle cx="104.42" cy="330.50" r="1.3"/><circle cx="107.71" cy="313.80" r="1.3"/><circle cx="111.00" cy="287.00" r="1.3"/><circle cx="114.29" cy="284.80" r="1.3"/><circle cx="117.58" cy="263.30" r="1.3"/><circle cx="120.87" cy="267.90" r="1.3"/><circle cx="124.16" cy="272.30" r="1.3"/><circle cx="127.45" cy="266.70" r="1.3"/><circle cx="130.74" cy="267.00" r="1.3"/><circle cx="134.03" cy="282.70" r="1.3"/><circle cx="137.31" cy="300.60" r="1.3"/><circle cx="140.60" cy="283.60" r="1.3"/><circle cx="143.89" cy="267.90" r="1.3"/><circle cx="147.18" cy="268.90" r="1.3"/><circle cx="150.47" cy="290.40" r="1.3"/><circle cx="153.76" cy="234.70" r="1.3"/><circle cx="157.05" cy="239.60" r="1.3"/><circle cx="160.34" cy="251.30" r="1.3"/><circle cx="163.63" cy="224.80" r="1.3"/><circle cx="166.92" cy="239.30" r="1.3"/><circle cx="170.20" cy="274.40" r="1.3"/><circle cx="173.49" cy="278.60" r="1.3"/><circle cx="176.78" cy="280.30" r="1.3"/><circle cx="180.07" cy="296.00" r="1.3"/><circle cx="183.36" cy="262.70" r="1.3"/><circle cx="186.65" cy="263.80" r="1.3"/><circle cx="189.94" cy="287.80" r="1.3"/><circle cx="193.23" cy="267.50" r="1.3"/><circle cx="196.52" cy="276.90" r="1.3"/><circle cx="199.81" cy="282.30" r="1.3"/><circle cx="203.09" cy="275.20" r="1.3"/><circle cx="206.38" cy="281.50" r="1.3"/><circle cx="209.67" cy="255.70" r="1.3"/><circle cx="212.96" cy="246.40" r="1.3"/><circle cx="216.25" cy="274.00" r="1.3"/><circle cx="219.54" cy="273.10" r="1.3"/><circle cx="222.83" cy="243.30" r="1.3"/><circle cx="226.12" cy="260.70" r="1.3"/><circle cx="229.41" cy="269.70" r="1.3"/><circle cx="232.69" cy="253.00" r="1.3"/><circle cx="235.98" cy="301.00" r="1.3"/><circle cx="239.27" cy="276.10" r="1.3"/><circle cx="242.56" cy="275.40" r="1.3"/><circle cx="245.85" cy="297.70" r="1.3"/><circle cx="249.14" cy="305.80" r="1.3"/><circle cx="252.43" cy="296.40" r="1.3"/><circle cx="255.72" cy="279.10" r="1.3"/><circle cx="259.01" cy="312.60" r="1.3"/><circle cx="262.30" cy="321.80" r="1.3"/><circle cx="265.58" cy="296.00" r="1.3"/><circle cx="268.87" cy="266.20" r="1.3"/><circle cx="272.16" cy="293.30" r="1.3"/><circle cx="275.45" cy="312.90" r="1.3"/><circle cx="278.74" cy="320.80" r="1.3"/><circle cx="282.03" cy="301.20" r="1.3"/><circle cx="285.32" cy="290.70" r="1.3"/><circle cx="288.61" cy="310.90" r="1.3"/></g>
<line x1="212.70" y1="219.2" x2="212.70" y2="345.4" stroke="#008000" stroke-opacity="0.6" stroke-width="1.0"/>
<path d="M40.2,219.2 V345.4 H300.5 V219.2" fill="none" stroke="#3a3a3a" stroke-width="0.9"/>
<line x1="51.80" y1="345.4" x2="51.80" y2="346.9" stroke="#333" stroke-width="0.7"/>
<text x="51.80" y="358.70" font-size="9.3" fill="#111" text-anchor="middle" stroke="#111" stroke-width="0.22" textLength="23.67" lengthAdjust="spacingAndGlyphs" transform="rotate(-45 51.80 358.70)" dominant-baseline="central">1950</text>
<line x1="84.69" y1="345.4" x2="84.69" y2="346.9" stroke="#333" stroke-width="0.7"/>
<text x="84.69" y="358.70" font-size="9.3" fill="#111" text-anchor="middle" stroke="#111" stroke-width="0.22" textLength="23.67" lengthAdjust="spacingAndGlyphs" transform="rotate(-45 84.69 358.70)" dominant-baseline="central">1960</text>
<line x1="117.58" y1="345.4" x2="117.58" y2="346.9" stroke="#333" stroke-width="0.7"/>
<text x="117.58" y="358.70" font-size="9.3" fill="#111" text-anchor="middle" stroke="#111" stroke-width="0.22" textLength="23.67" lengthAdjust="spacingAndGlyphs" transform="rotate(-45 117.58 358.70)" dominant-baseline="central">1970</text>
<line x1="150.47" y1="345.4" x2="150.47" y2="346.9" stroke="#333" stroke-width="0.7"/>
<text x="150.47" y="358.70" font-size="9.3" fill="#111" text-anchor="middle" stroke="#111" stroke-width="0.22" textLength="23.67" lengthAdjust="spacingAndGlyphs" transform="rotate(-45 150.47 358.70)" dominant-baseline="central">1980</text>
<line x1="183.36" y1="345.4" x2="183.36" y2="346.9" stroke="#333" stroke-width="0.7"/>
<text x="183.36" y="358.70" font-size="9.3" fill="#111" text-anchor="middle" stroke="#111" stroke-width="0.22" textLength="23.67" lengthAdjust="spacingAndGlyphs" transform="rotate(-45 183.36 358.70)" dominant-baseline="central">1990</text>
<line x1="216.25" y1="345.4" x2="216.25" y2="346.9" stroke="#333" stroke-width="0.7"/>
<text x="216.25" y="358.70" font-size="9.3" fill="#111" text-anchor="middle" stroke="#111" stroke-width="0.22" textLength="23.67" lengthAdjust="spacingAndGlyphs" transform="rotate(-45 216.25 358.70)" dominant-baseline="central">2000</text>
<line x1="249.14" y1="345.4" x2="249.14" y2="346.9" stroke="#333" stroke-width="0.7"/>
<text x="249.14" y="358.70" font-size="9.3" fill="#111" text-anchor="middle" stroke="#111" stroke-width="0.22" textLength="23.67" lengthAdjust="spacingAndGlyphs" transform="rotate(-45 249.14 358.70)" dominant-baseline="central">2010</text>
<line x1="282.03" y1="345.4" x2="282.03" y2="346.9" stroke="#333" stroke-width="0.7"/>
<text x="282.03" y="358.70" font-size="9.3" fill="#111" text-anchor="middle" stroke="#111" stroke-width="0.22" textLength="23.67" lengthAdjust="spacingAndGlyphs" transform="rotate(-45 282.03 358.70)" dominant-baseline="central">2020</text>
<line x1="39.0" y1="339.30" x2="40.2" y2="339.30" stroke="#0000ff" stroke-width="0.7"/>
<text x="37.60" y="342.50" font-size="9.7" fill="#0000ff" text-anchor="end" stroke="#0000ff" stroke-width="0.12" textLength="5.66" lengthAdjust="spacingAndGlyphs">2</text>
<line x1="39.0" y1="316.10" x2="40.2" y2="316.10" stroke="#0000ff" stroke-width="0.7"/>
<text x="37.60" y="319.30" font-size="9.7" fill="#0000ff" text-anchor="end" stroke="#0000ff" stroke-width="0.12" textLength="5.66" lengthAdjust="spacingAndGlyphs">4</text>
<line x1="39.0" y1="292.90" x2="40.2" y2="292.90" stroke="#0000ff" stroke-width="0.7"/>
<text x="37.60" y="296.10" font-size="9.7" fill="#0000ff" text-anchor="end" stroke="#0000ff" stroke-width="0.12" textLength="5.66" lengthAdjust="spacingAndGlyphs">6</text>
<line x1="39.0" y1="269.70" x2="40.2" y2="269.70" stroke="#0000ff" stroke-width="0.7"/>
<text x="37.60" y="272.90" font-size="9.7" fill="#0000ff" text-anchor="end" stroke="#0000ff" stroke-width="0.12" textLength="5.66" lengthAdjust="spacingAndGlyphs">8</text>
<line x1="39.0" y1="246.50" x2="40.2" y2="246.50" stroke="#0000ff" stroke-width="0.7"/>
<text x="37.60" y="249.70" font-size="9.7" fill="#0000ff" text-anchor="end" stroke="#0000ff" stroke-width="0.12" textLength="11.33" lengthAdjust="spacingAndGlyphs">10</text>
<line x1="39.0" y1="223.30" x2="40.2" y2="223.30" stroke="#0000ff" stroke-width="0.7"/>
<text x="37.60" y="226.50" font-size="9.7" fill="#0000ff" text-anchor="end" stroke="#0000ff" stroke-width="0.12" textLength="11.33" lengthAdjust="spacingAndGlyphs">12</text>
<line x1="300.5" y1="222.50" x2="301.7" y2="222.50" stroke="#ff0000" stroke-width="0.7"/>
<text x="303.50" y="226.00" font-size="9.7" fill="#ff0000" text-anchor="start" stroke="#ff0000" stroke-width="0.12" textLength="21.61" lengthAdjust="spacingAndGlyphs">−2.0</text>
<line x1="300.5" y1="253.80" x2="301.7" y2="253.80" stroke="#ff0000" stroke-width="0.7"/>
<text x="303.50" y="257.30" font-size="9.7" fill="#ff0000" text-anchor="start" stroke="#ff0000" stroke-width="0.12" textLength="21.61" lengthAdjust="spacingAndGlyphs">−2.2</text>
<line x1="300.5" y1="285.10" x2="301.7" y2="285.10" stroke="#ff0000" stroke-width="0.7"/>
<text x="303.50" y="288.60" font-size="9.7" fill="#ff0000" text-anchor="start" stroke="#ff0000" stroke-width="0.12" textLength="21.61" lengthAdjust="spacingAndGlyphs">−2.4</text>
<line x1="300.5" y1="316.40" x2="301.7" y2="316.40" stroke="#ff0000" stroke-width="0.7"/>
<text x="303.50" y="319.90" font-size="9.7" fill="#ff0000" text-anchor="start" stroke="#ff0000" stroke-width="0.12" textLength="21.61" lengthAdjust="spacingAndGlyphs">−2.6</text>
<text x="170.35" y="216.60" font-size="12.9" fill="#000" text-anchor="middle" stroke="#000" stroke-width="0.22" textLength="23.80" lengthAdjust="spacingAndGlyphs">SEA</text>
<text x="170.35" y="379.80" font-size="10.6" fill="#000" text-anchor="middle" stroke="#000" stroke-width="0.22">Year</text>
<text x="16.20" y="212.30" font-size="18.5" fill="#000" text-anchor="start" font-weight="bold">c</text>
<text x="40.50" y="219.40" font-size="9.6" fill="#0000ff" textLength="5.6" lengthAdjust="spacingAndGlyphs">×</text>
<text x="46.70" y="218.60" font-size="8.4" fill="#0000ff" stroke="#0000ff" stroke-width="0.1" textLength="9.4" lengthAdjust="spacingAndGlyphs">10</text>
<text x="56.60" y="215.70" font-size="5.6" fill="#0000ff" textLength="7.6" lengthAdjust="spacingAndGlyphs">−5</text>
<text x="9.40" y="283.60" font-size="10.8" fill="#0000ff" text-anchor="middle" stroke="#0000ff" stroke-width="0.05" textLength="89.80" lengthAdjust="spacingAndGlyphs" transform="rotate(-90 9.40 283.60)">Precipitation rate</text>
<text x="22.00" y="281.70" font-size="10.8" fill="#0000ff" text-anchor="middle" textLength="67.5" lengthAdjust="spacingAndGlyphs" transform="rotate(-90 22.00 281.70)">(<tspan font-style="italic">kg m</tspan><tspan font-size="7.5" dy="-4">−2</tspan><tspan dy="4"> </tspan><tspan font-style="italic">s</tspan><tspan font-size="7.5" dy="-4">−1</tspan><tspan dy="4">)</tspan></text>
<g transform="translate(335.00 282.30) rotate(-90)" fill="#ff0000"><text x="-14.6" y="0" font-size="11" font-style="italic" textLength="6.6" lengthAdjust="spacingAndGlyphs">K</text><text x="-7.8" y="-4.3" font-size="6.6" textLength="19.0" lengthAdjust="spacingAndGlyphs">out−</text><text x="-8.0" y="3.9" font-size="7.7" textLength="17.8" lengthAdjust="spacingAndGlyphs">2446</text></g>
<line x1="529.40" y1="219.2" x2="529.40" y2="345.4" stroke="#333" stroke-width="1"/>
<polyline points="398.30,261.60 401.58,307.50 404.86,270.60 408.14,276.40 411.42,281.00 414.70,257.30 417.98,227.40 421.26,258.50 424.54,224.80 427.82,245.30 431.10,273.80 434.38,233.70 437.66,282.20 440.94,281.50 444.22,318.20 447.50,339.40 450.78,322.30 454.06,278.60 457.34,311.20 460.62,311.20 463.90,273.50 467.18,275.20 470.46,337.40 473.74,268.40 477.02,309.20 480.30,263.80 483.58,278.10 486.86,275.20 490.14,266.70 493.42,287.80 496.70,263.80 499.98,273.00 503.26,294.20 506.54,253.90 509.82,293.50 513.10,304.40 516.38,304.40 519.66,309.70 522.94,275.20 526.22,287.30 529.50,280.80 532.78,296.40 536.06,313.80 539.34,305.30 542.62,273.00 545.90,306.60 549.18,300.30 552.46,276.60 555.74,274.20 559.02,290.40 562.30,304.60 565.58,287.30 568.86,304.40 572.14,263.80 575.42,273.80 578.70,262.70 581.98,264.50 585.26,274.40 588.54,275.70 591.82,284.10 595.10,262.70 598.38,273.00 601.66,278.80 604.94,230.30 608.22,329.70 611.50,312.90 614.78,280.50 618.06,280.50 621.34,301.20 624.62,258.60 627.90,271.30 631.18,287.00 634.46,250.50" fill="none" stroke="#0000ff" stroke-opacity="0.5" stroke-width="0.8" stroke-linejoin="round"/>
<g fill="#0000ff"><rect x="397.05" y="260.35" width="2.5" height="2.5"/><rect x="400.33" y="306.25" width="2.5" height="2.5"/><rect x="403.61" y="269.35" width="2.5" height="2.5"/><rect x="406.89" y="275.15" width="2.5" height="2.5"/><rect x="410.17" y="279.75" width="2.5" height="2.5"/><rect x="413.45" y="256.05" width="2.5" height="2.5"/><rect x="416.73" y="226.15" width="2.5" height="2.5"/><rect x="420.01" y="257.25" width="2.5" height="2.5"/><rect x="423.29" y="223.55" width="2.5" height="2.5"/><rect x="426.57" y="244.05" width="2.5" height="2.5"/><rect x="429.85" y="272.55" width="2.5" height="2.5"/><rect x="433.13" y="232.45" width="2.5" height="2.5"/><rect x="436.41" y="280.95" width="2.5" height="2.5"/><rect x="439.69" y="280.25" width="2.5" height="2.5"/><rect x="442.97" y="316.95" width="2.5" height="2.5"/><rect x="446.25" y="338.15" width="2.5" height="2.5"/><rect x="449.53" y="321.05" width="2.5" height="2.5"/><rect x="452.81" y="277.35" width="2.5" height="2.5"/><rect x="456.09" y="309.95" width="2.5" height="2.5"/><rect x="459.37" y="309.95" width="2.5" height="2.5"/><rect x="462.65" y="272.25" width="2.5" height="2.5"/><rect x="465.93" y="273.95" width="2.5" height="2.5"/><rect x="469.21" y="336.15" width="2.5" height="2.5"/><rect x="472.49" y="267.15" width="2.5" height="2.5"/><rect x="475.77" y="307.95" width="2.5" height="2.5"/><rect x="479.05" y="262.55" width="2.5" height="2.5"/><rect x="482.33" y="276.85" width="2.5" height="2.5"/><rect x="485.61" y="273.95" width="2.5" height="2.5"/><rect x="488.89" y="265.45" width="2.5" height="2.5"/><rect x="492.17" y="286.55" width="2.5" height="2.5"/><rect x="495.45" y="262.55" width="2.5" height="2.5"/><rect x="498.73" y="271.75" width="2.5" height="2.5"/><rect x="502.01" y="292.95" width="2.5" height="2.5"/><rect x="505.29" y="252.65" width="2.5" height="2.5"/><rect x="508.57" y="292.25" width="2.5" height="2.5"/><rect x="511.85" y="303.15" width="2.5" height="2.5"/><rect x="515.13" y="303.15" width="2.5" height="2.5"/><rect x="518.41" y="308.45" width="2.5" height="2.5"/><rect x="521.69" y="273.95" width="2.5" height="2.5"/><rect x="524.97" y="286.05" width="2.5" height="2.5"/><rect x="528.25" y="279.55" width="2.5" height="2.5"/><rect x="531.53" y="295.15" width="2.5" height="2.5"/><rect x="534.81" y="312.55" width="2.5" height="2.5"/><rect x="538.09" y="304.05" width="2.5" height="2.5"/><rect x="541.37" y="271.75" width="2.5" height="2.5"/><rect x="544.65" y="305.35" width="2.5" height="2.5"/><rect x="547.93" y="299.05" width="2.5" height="2.5"/><rect x="551.21" y="275.35" width="2.5" height="2.5"/><rect x="554.49" y="272.95" width="2.5" height="2.5"/><rect x="557.77" y="289.15" width="2.5" height="2.5"/><rect x="561.05" y="303.35" width="2.5" height="2.5"/><rect x="564.33" y="286.05" width="2.5" height="2.5"/><rect x="567.61" y="303.15" width="2.5" height="2.5"/><rect x="570.89" y="262.55" width="2.5" height="2.5"/><rect x="574.17" y="272.55" width="2.5" height="2.5"/><rect x="577.45" y="261.45" width="2.5" height="2.5"/><rect x="580.73" y="263.25" width="2.5" height="2.5"/><rect x="584.01" y="273.15" width="2.5" height="2.5"/><rect x="587.29" y="274.45" width="2.5" height="2.5"/><rect x="590.57" y="282.85" width="2.5" height="2.5"/><rect x="593.85" y="261.45" width="2.5" height="2.5"/><rect x="597.13" y="271.75" width="2.5" height="2.5"/><rect x="600.41" y="277.55" width="2.5" height="2.5"/><rect x="603.69" y="229.05" width="2.5" height="2.5"/><rect x="606.97" y="328.45" width="2.5" height="2.5"/><rect x="610.25" y="311.65" width="2.5" height="2.5"/><rect x="613.53" y="279.25" width="2.5" height="2.5"/><rect x="616.81" y="279.25" width="2.5" height="2.5"/><rect x="620.09" y="299.95" width="2.5" height="2.5"/><rect x="623.37" y="257.35" width="2.5" height="2.5"/><rect x="626.65" y="270.05" width="2.5" height="2.5"/><rect x="629.93" y="285.75" width="2.5" height="2.5"/><rect x="633.21" y="249.25" width="2.5" height="2.5"/></g>
<polyline points="398.30,252.70 401.58,259.00 404.86,259.80 408.14,258.10 411.42,224.80 414.70,239.30 417.98,243.30 421.26,273.00 424.54,275.60 427.82,262.70 431.10,259.00 434.38,239.90 437.66,288.70 440.94,255.20 444.22,291.20 447.50,263.30 450.78,259.00 454.06,258.50 457.34,298.90 460.62,278.60 463.90,263.30 467.18,252.20 470.46,266.70 473.74,288.70 477.02,289.90 480.30,247.40 483.58,252.20 486.86,269.60 490.14,266.70 493.42,286.10 496.70,253.50 499.98,253.50 503.26,259.00 506.54,278.10 509.82,279.50 513.10,339.90 516.38,278.60 519.66,302.90 522.94,259.30 526.22,269.80 529.50,282.50 532.78,327.50 536.06,298.10 539.34,326.30 542.62,262.10 545.90,276.10 549.18,285.30 552.46,283.90 555.74,287.80 559.02,330.00 562.30,305.80 565.58,289.90 568.86,294.70 572.14,282.20 575.42,277.40 578.70,270.90 581.98,283.90 585.26,297.70 588.54,301.20 591.82,306.60 595.10,278.60 598.38,272.70 601.66,316.50 604.94,256.40 608.22,328.00 611.50,310.00 614.78,306.30 618.06,289.90 621.34,297.20 624.62,268.70 627.90,289.90 631.18,288.70 634.46,259.80" fill="none" stroke="#ff0000" stroke-opacity="0.7" stroke-width="0.8" stroke-dasharray="2.2 1.2"/>
<g fill="#ff0000"><circle cx="398.30" cy="252.70" r="1.3"/><circle cx="401.58" cy="259.00" r="1.3"/><circle cx="404.86" cy="259.80" r="1.3"/><circle cx="408.14" cy="258.10" r="1.3"/><circle cx="411.42" cy="224.80" r="1.3"/><circle cx="414.70" cy="239.30" r="1.3"/><circle cx="417.98" cy="243.30" r="1.3"/><circle cx="421.26" cy="273.00" r="1.3"/><circle cx="424.54" cy="275.60" r="1.3"/><circle cx="427.82" cy="262.70" r="1.3"/><circle cx="431.10" cy="259.00" r="1.3"/><circle cx="434.38" cy="239.90" r="1.3"/><circle cx="437.66" cy="288.70" r="1.3"/><circle cx="440.94" cy="255.20" r="1.3"/><circle cx="444.22" cy="291.20" r="1.3"/><circle cx="447.50" cy="263.30" r="1.3"/><circle cx="450.78" cy="259.00" r="1.3"/><circle cx="454.06" cy="258.50" r="1.3"/><circle cx="457.34" cy="298.90" r="1.3"/><circle cx="460.62" cy="278.60" r="1.3"/><circle cx="463.90" cy="263.30" r="1.3"/><circle cx="467.18" cy="252.20" r="1.3"/><circle cx="470.46" cy="266.70" r="1.3"/><circle cx="473.74" cy="288.70" r="1.3"/><circle cx="477.02" cy="289.90" r="1.3"/><circle cx="480.30" cy="247.40" r="1.3"/><circle cx="483.58" cy="252.20" r="1.3"/><circle cx="486.86" cy="269.60" r="1.3"/><circle cx="490.14" cy="266.70" r="1.3"/><circle cx="493.42" cy="286.10" r="1.3"/><circle cx="496.70" cy="253.50" r="1.3"/><circle cx="499.98" cy="253.50" r="1.3"/><circle cx="503.26" cy="259.00" r="1.3"/><circle cx="506.54" cy="278.10" r="1.3"/><circle cx="509.82" cy="279.50" r="1.3"/><circle cx="513.10" cy="339.90" r="1.3"/><circle cx="516.38" cy="278.60" r="1.3"/><circle cx="519.66" cy="302.90" r="1.3"/><circle cx="522.94" cy="259.30" r="1.3"/><circle cx="526.22" cy="269.80" r="1.3"/><circle cx="529.50" cy="282.50" r="1.3"/><circle cx="532.78" cy="327.50" r="1.3"/><circle cx="536.06" cy="298.10" r="1.3"/><circle cx="539.34" cy="326.30" r="1.3"/><circle cx="542.62" cy="262.10" r="1.3"/><circle cx="545.90" cy="276.10" r="1.3"/><circle cx="549.18" cy="285.30" r="1.3"/><circle cx="552.46" cy="283.90" r="1.3"/><circle cx="555.74" cy="287.80" r="1.3"/><circle cx="559.02" cy="330.00" r="1.3"/><circle cx="562.30" cy="305.80" r="1.3"/><circle cx="565.58" cy="289.90" r="1.3"/><circle cx="568.86" cy="294.70" r="1.3"/><circle cx="572.14" cy="282.20" r="1.3"/><circle cx="575.42" cy="277.40" r="1.3"/><circle cx="578.70" cy="270.90" r="1.3"/><circle cx="581.98" cy="283.90" r="1.3"/><circle cx="585.26" cy="297.70" r="1.3"/><circle cx="588.54" cy="301.20" r="1.3"/><circle cx="591.82" cy="306.60" r="1.3"/><circle cx="595.10" cy="278.60" r="1.3"/><circle cx="598.38" cy="272.70" r="1.3"/><circle cx="601.66" cy="316.50" r="1.3"/><circle cx="604.94" cy="256.40" r="1.3"/><circle cx="608.22" cy="328.00" r="1.3"/><circle cx="611.50" cy="310.00" r="1.3"/><circle cx="614.78" cy="306.30" r="1.3"/><circle cx="618.06" cy="289.90" r="1.3"/><circle cx="621.34" cy="297.20" r="1.3"/><circle cx="624.62" cy="268.70" r="1.3"/><circle cx="627.90" cy="289.90" r="1.3"/><circle cx="631.18" cy="288.70" r="1.3"/><circle cx="634.46" cy="259.80" r="1.3"/></g>
<line x1="559.20" y1="219.2" x2="559.20" y2="345.4" stroke="#008000" stroke-opacity="0.55" stroke-width="1.0"/>
<path d="M386.5,219.2 V345.4 H646.3 V219.2" fill="none" stroke="#3a3a3a" stroke-width="0.9"/>
<line x1="398.30" y1="345.4" x2="398.30" y2="346.9" stroke="#333" stroke-width="0.7"/>
<text x="398.30" y="358.70" font-size="9.3" fill="#111" text-anchor="middle" stroke="#111" stroke-width="0.22" textLength="23.67" lengthAdjust="spacingAndGlyphs" transform="rotate(-45 398.30 358.70)" dominant-baseline="central">1950</text>
<line x1="431.10" y1="345.4" x2="431.10" y2="346.9" stroke="#333" stroke-width="0.7"/>
<text x="431.10" y="358.70" font-size="9.3" fill="#111" text-anchor="middle" stroke="#111" stroke-width="0.22" textLength="23.67" lengthAdjust="spacingAndGlyphs" transform="rotate(-45 431.10 358.70)" dominant-baseline="central">1960</text>
<line x1="463.90" y1="345.4" x2="463.90" y2="346.9" stroke="#333" stroke-width="0.7"/>
<text x="463.90" y="358.70" font-size="9.3" fill="#111" text-anchor="middle" stroke="#111" stroke-width="0.22" textLength="23.67" lengthAdjust="spacingAndGlyphs" transform="rotate(-45 463.90 358.70)" dominant-baseline="central">1970</text>
<line x1="496.70" y1="345.4" x2="496.70" y2="346.9" stroke="#333" stroke-width="0.7"/>
<text x="496.70" y="358.70" font-size="9.3" fill="#111" text-anchor="middle" stroke="#111" stroke-width="0.22" textLength="23.67" lengthAdjust="spacingAndGlyphs" transform="rotate(-45 496.70 358.70)" dominant-baseline="central">1980</text>
<line x1="529.50" y1="345.4" x2="529.50" y2="346.9" stroke="#333" stroke-width="0.7"/>
<text x="529.50" y="358.70" font-size="9.3" fill="#111" text-anchor="middle" stroke="#111" stroke-width="0.22" textLength="23.67" lengthAdjust="spacingAndGlyphs" transform="rotate(-45 529.50 358.70)" dominant-baseline="central">1990</text>
<line x1="562.30" y1="345.4" x2="562.30" y2="346.9" stroke="#333" stroke-width="0.7"/>
<text x="562.30" y="358.70" font-size="9.3" fill="#111" text-anchor="middle" stroke="#111" stroke-width="0.22" textLength="23.67" lengthAdjust="spacingAndGlyphs" transform="rotate(-45 562.30 358.70)" dominant-baseline="central">2000</text>
<line x1="595.10" y1="345.4" x2="595.10" y2="346.9" stroke="#333" stroke-width="0.7"/>
<text x="595.10" y="358.70" font-size="9.3" fill="#111" text-anchor="middle" stroke="#111" stroke-width="0.22" textLength="23.67" lengthAdjust="spacingAndGlyphs" transform="rotate(-45 595.10 358.70)" dominant-baseline="central">2010</text>
<line x1="627.90" y1="345.4" x2="627.90" y2="346.9" stroke="#333" stroke-width="0.7"/>
<text x="627.90" y="358.70" font-size="9.3" fill="#111" text-anchor="middle" stroke="#111" stroke-width="0.22" textLength="23.67" lengthAdjust="spacingAndGlyphs" transform="rotate(-45 627.90 358.70)" dominant-baseline="central">2020</text>
<line x1="385.3" y1="337.80" x2="386.5" y2="337.80" stroke="#0000ff" stroke-width="0.7"/>
<text x="383.90" y="341.00" font-size="9.7" fill="#0000ff" text-anchor="end" stroke="#0000ff" stroke-width="0.12" textLength="5.66" lengthAdjust="spacingAndGlyphs">3</text>
<line x1="385.3" y1="315.90" x2="386.5" y2="315.90" stroke="#0000ff" stroke-width="0.7"/>
<text x="383.90" y="319.10" font-size="9.7" fill="#0000ff" text-anchor="end" stroke="#0000ff" stroke-width="0.12" textLength="5.66" lengthAdjust="spacingAndGlyphs">4</text>
<line x1="385.3" y1="294.00" x2="386.5" y2="294.00" stroke="#0000ff" stroke-width="0.7"/>
<text x="383.90" y="297.20" font-size="9.7" fill="#0000ff" text-anchor="end" stroke="#0000ff" stroke-width="0.12" textLength="5.66" lengthAdjust="spacingAndGlyphs">5</text>
<line x1="385.3" y1="272.10" x2="386.5" y2="272.10" stroke="#0000ff" stroke-width="0.7"/>
<text x="383.90" y="275.30" font-size="9.7" fill="#0000ff" text-anchor="end" stroke="#0000ff" stroke-width="0.12" textLength="5.66" lengthAdjust="spacingAndGlyphs">6</text>
<line x1="385.3" y1="250.20" x2="386.5" y2="250.20" stroke="#0000ff" stroke-width="0.7"/>
<text x="383.90" y="253.40" font-size="9.7" fill="#0000ff" text-anchor="end" stroke="#0000ff" stroke-width="0.12" textLength="5.66" lengthAdjust="spacingAndGlyphs">7</text>
<line x1="385.3" y1="228.30" x2="386.5" y2="228.30" stroke="#0000ff" stroke-width="0.7"/>
<text x="383.90" y="231.50" font-size="9.7" fill="#0000ff" text-anchor="end" stroke="#0000ff" stroke-width="0.12" textLength="5.66" lengthAdjust="spacingAndGlyphs">8</text>
<line x1="646.3" y1="223.60" x2="647.5" y2="223.60" stroke="#ff0000" stroke-width="0.7"/>
<text x="649.30" y="227.10" font-size="9.7" fill="#ff0000" text-anchor="start" stroke="#ff0000" stroke-width="0.12" textLength="14.15" lengthAdjust="spacingAndGlyphs">3.0</text>
<line x1="646.3" y1="256.90" x2="647.5" y2="256.90" stroke="#ff0000" stroke-width="0.7"/>
<text x="649.30" y="260.40" font-size="9.7" fill="#ff0000" text-anchor="start" stroke="#ff0000" stroke-width="0.12" textLength="14.15" lengthAdjust="spacingAndGlyphs">2.8</text>
<line x1="646.3" y1="290.20" x2="647.5" y2="290.20" stroke="#ff0000" stroke-width="0.7"/>
<text x="649.30" y="293.70" font-size="9.7" fill="#ff0000" text-anchor="start" stroke="#ff0000" stroke-width="0.12" textLength="14.15" lengthAdjust="spacingAndGlyphs">2.6</text>
<line x1="646.3" y1="323.50" x2="647.5" y2="323.50" stroke="#ff0000" stroke-width="0.7"/>
<text x="649.30" y="327.00" font-size="9.7" fill="#ff0000" text-anchor="start" stroke="#ff0000" stroke-width="0.12" textLength="14.15" lengthAdjust="spacingAndGlyphs">2.4</text>
<text x="516.40" y="216.60" font-size="12.9" fill="#000" text-anchor="middle" stroke="#000" stroke-width="0.22" textLength="12.12" lengthAdjust="spacingAndGlyphs">CI</text>
<text x="516.40" y="379.80" font-size="10.6" fill="#000" text-anchor="middle" stroke="#000" stroke-width="0.22">Year</text>
<text x="370.00" y="212.30" font-size="18.5" fill="#000" text-anchor="start" font-weight="bold">d</text>
<text x="386.80" y="219.40" font-size="9.6" fill="#0000ff" textLength="5.6" lengthAdjust="spacingAndGlyphs">×</text>
<text x="393.00" y="218.60" font-size="8.4" fill="#0000ff" stroke="#0000ff" stroke-width="0.1" textLength="9.4" lengthAdjust="spacingAndGlyphs">10</text>
<text x="402.90" y="215.70" font-size="5.6" fill="#0000ff" textLength="7.6" lengthAdjust="spacingAndGlyphs">−5</text>
<text x="355.70" y="283.60" font-size="10.8" fill="#0000ff" text-anchor="middle" stroke="#0000ff" stroke-width="0.05" textLength="89.80" lengthAdjust="spacingAndGlyphs" transform="rotate(-90 355.70 283.60)">Precipitation rate</text>
<text x="368.30" y="281.70" font-size="10.8" fill="#0000ff" text-anchor="middle" textLength="67.5" lengthAdjust="spacingAndGlyphs" transform="rotate(-90 368.30 281.70)">(<tspan font-style="italic">kg m</tspan><tspan font-size="7.5" dy="-4">−2</tspan><tspan dy="4"> </tspan><tspan font-style="italic">s</tspan><tspan font-size="7.5" dy="-4">−1</tspan><tspan dy="4">)</tspan></text>
<g transform="translate(674.00 282.30) rotate(-90)" fill="#ff0000"><text x="-14.6" y="0" font-size="11" font-style="italic" textLength="6.6" lengthAdjust="spacingAndGlyphs">K</text><text x="-7.8" y="-4.3" font-size="6.6" textLength="19.0" lengthAdjust="spacingAndGlyphs">out+</text><text x="-8.0" y="3.9" font-size="7.7" textLength="17.8" lengthAdjust="spacingAndGlyphs">1549</text></g>
<text x="45.53" y="33.70" font-size="7.3" fill="#000" textLength="79.33" lengthAdjust="spacingAndGlyphs" stroke="#000" stroke-width="0.2" font-weight="bold">Regression Slopes :</text>
<text x="45.14" y="43.00" font-size="7.245000000000001" fill="#111" textLength="4.82" lengthAdjust="spacingAndGlyphs" stroke="#111" stroke-width="0.25" font-style="italic">β</text>
<text x="49.32" y="44.70" font-size="5.5200000000000005" fill="#111" textLength="14.05" lengthAdjust="spacingAndGlyphs" font-style="italic">learn</text>
<text x="64.79" y="42.90" font-size="6.210000000000001" fill="#111" textLength="5.32" lengthAdjust="spacingAndGlyphs" stroke="#111" stroke-width="0.3">=</text>
<text x="72.04" y="43.20" font-size="7.245000000000001" fill="#111" textLength="15.72" lengthAdjust="spacingAndGlyphs" stroke="#111" stroke-width="0.2">8.02</text>
<text x="89.99" y="43.10" font-size="8.28" fill="#111" textLength="5.23" lengthAdjust="spacingAndGlyphs" stroke="#111" stroke-width="0.15">×</text>
<text x="97.44" y="43.20" font-size="7.245000000000001" fill="#111" textLength="8.82" lengthAdjust="spacingAndGlyphs" stroke="#111" stroke-width="0.2">10</text>
<text x="106.85" y="40.00" font-size="4.968" fill="#111" textLength="7.40" lengthAdjust="spacingAndGlyphs" stroke="#111" stroke-width="0.14">−5</text>
<text x="45.14" y="52.50" font-size="7.245000000000001" fill="#111" textLength="4.82" lengthAdjust="spacingAndGlyphs" stroke="#111" stroke-width="0.25" font-style="italic">β</text>
<text x="49.82" y="54.20" font-size="5.5200000000000005" fill="#111" textLength="12.25" lengthAdjust="spacingAndGlyphs" font-style="italic">train</text>
<text x="63.49" y="52.40" font-size="6.210000000000001" fill="#111" textLength="5.32" lengthAdjust="spacingAndGlyphs" stroke="#111" stroke-width="0.3">=</text>
<text x="70.74" y="52.70" font-size="7.245000000000001" fill="#111" textLength="15.72" lengthAdjust="spacingAndGlyphs" stroke="#111" stroke-width="0.2">1.58</text>
<text x="88.69" y="52.60" font-size="8.28" fill="#111" textLength="5.23" lengthAdjust="spacingAndGlyphs" stroke="#111" stroke-width="0.15">×</text>
<text x="96.14" y="52.70" font-size="7.245000000000001" fill="#111" textLength="8.82" lengthAdjust="spacingAndGlyphs" stroke="#111" stroke-width="0.2">10</text>
<text x="105.55" y="49.50" font-size="4.968" fill="#111" textLength="7.40" lengthAdjust="spacingAndGlyphs" stroke="#111" stroke-width="0.14">−4</text>
<text x="559.83" y="126.90" font-size="7.3" fill="#000" textLength="79.33" lengthAdjust="spacingAndGlyphs" stroke="#000" stroke-width="0.2" font-weight="bold">Regression Slopes :</text>
<text x="570.94" y="136.20" font-size="7.245000000000001" fill="#111" textLength="4.82" lengthAdjust="spacingAndGlyphs" stroke="#111" stroke-width="0.25" font-style="italic">β</text>
<text x="575.12" y="137.90" font-size="5.5200000000000005" fill="#111" textLength="14.05" lengthAdjust="spacingAndGlyphs" font-style="italic">learn</text>
<text x="590.59" y="136.10" font-size="6.210000000000001" fill="#111" textLength="5.32" lengthAdjust="spacingAndGlyphs" stroke="#111" stroke-width="0.3">=</text>
<text x="597.84" y="136.40" font-size="7.245000000000001" fill="#111" textLength="15.72" lengthAdjust="spacingAndGlyphs" stroke="#111" stroke-width="0.2">4.57</text>
<text x="615.79" y="136.30" font-size="8.28" fill="#111" textLength="5.23" lengthAdjust="spacingAndGlyphs" stroke="#111" stroke-width="0.15">×</text>
<text x="623.24" y="136.40" font-size="7.245000000000001" fill="#111" textLength="8.82" lengthAdjust="spacingAndGlyphs" stroke="#111" stroke-width="0.2">10</text>
<text x="632.65" y="133.20" font-size="4.968" fill="#111" textLength="7.40" lengthAdjust="spacingAndGlyphs" stroke="#111" stroke-width="0.14">−5</text>
<text x="572.24" y="145.70" font-size="7.245000000000001" fill="#111" textLength="4.82" lengthAdjust="spacingAndGlyphs" stroke="#111" stroke-width="0.25" font-style="italic">β</text>
<text x="576.92" y="147.40" font-size="5.5200000000000005" fill="#111" textLength="12.25" lengthAdjust="spacingAndGlyphs" font-style="italic">train</text>
<text x="590.59" y="145.60" font-size="6.210000000000001" fill="#111" textLength="5.32" lengthAdjust="spacingAndGlyphs" stroke="#111" stroke-width="0.3">=</text>
<text x="597.84" y="145.90" font-size="7.245000000000001" fill="#111" textLength="15.72" lengthAdjust="spacingAndGlyphs" stroke="#111" stroke-width="0.2">8.98</text>
<text x="615.79" y="145.80" font-size="8.28" fill="#111" textLength="5.23" lengthAdjust="spacingAndGlyphs" stroke="#111" stroke-width="0.15">×</text>
<text x="623.24" y="145.90" font-size="7.245000000000001" fill="#111" textLength="8.82" lengthAdjust="spacingAndGlyphs" stroke="#111" stroke-width="0.2">10</text>
<text x="632.65" y="142.70" font-size="4.968" fill="#111" textLength="7.40" lengthAdjust="spacingAndGlyphs" stroke="#111" stroke-width="0.14">−5</text>
<text x="214.34" y="220.70" font-size="7.3" fill="#000" textLength="79.33" lengthAdjust="spacingAndGlyphs" stroke="#000" stroke-width="0.2" font-weight="bold">Regression Slopes :</text>
<text x="216.54" y="230.10" font-size="7.245000000000001" fill="#111" textLength="4.82" lengthAdjust="spacingAndGlyphs" stroke="#111" stroke-width="0.25" font-style="italic">β</text>
<text x="220.72" y="231.80" font-size="5.5200000000000005" fill="#111" textLength="14.05" lengthAdjust="spacingAndGlyphs" font-style="italic">learn</text>
<text x="236.19" y="230.00" font-size="6.210000000000001" fill="#111" textLength="5.32" lengthAdjust="spacingAndGlyphs" stroke="#111" stroke-width="0.3">=</text>
<text x="244.96" y="229.80" font-size="6.9" fill="#111" textLength="5.69" lengthAdjust="spacingAndGlyphs" stroke="#111" stroke-width="0.14">−</text>
<text x="252.64" y="230.30" font-size="7.245000000000001" fill="#111" textLength="15.72" lengthAdjust="spacingAndGlyphs" stroke="#111" stroke-width="0.2">7.95</text>
<text x="270.59" y="230.20" font-size="8.28" fill="#111" textLength="5.23" lengthAdjust="spacingAndGlyphs" stroke="#111" stroke-width="0.15">×</text>
<text x="278.04" y="230.30" font-size="7.245000000000001" fill="#111" textLength="8.82" lengthAdjust="spacingAndGlyphs" stroke="#111" stroke-width="0.2">10</text>
<text x="287.45" y="227.10" font-size="4.968" fill="#111" textLength="7.40" lengthAdjust="spacingAndGlyphs" stroke="#111" stroke-width="0.14">−5</text>
<text x="217.84" y="239.90" font-size="7.245000000000001" fill="#111" textLength="4.82" lengthAdjust="spacingAndGlyphs" stroke="#111" stroke-width="0.25" font-style="italic">β</text>
<text x="222.52" y="241.60" font-size="5.5200000000000005" fill="#111" textLength="12.25" lengthAdjust="spacingAndGlyphs" font-style="italic">train</text>
<text x="236.19" y="239.80" font-size="6.210000000000001" fill="#111" textLength="5.32" lengthAdjust="spacingAndGlyphs" stroke="#111" stroke-width="0.3">=</text>
<text x="244.96" y="239.60" font-size="6.9" fill="#111" textLength="5.69" lengthAdjust="spacingAndGlyphs" stroke="#111" stroke-width="0.14">−</text>
<text x="252.64" y="240.10" font-size="7.245000000000001" fill="#111" textLength="15.72" lengthAdjust="spacingAndGlyphs" stroke="#111" stroke-width="0.2">2.01</text>
<text x="270.59" y="240.00" font-size="8.28" fill="#111" textLength="5.23" lengthAdjust="spacingAndGlyphs" stroke="#111" stroke-width="0.15">×</text>
<text x="278.04" y="240.10" font-size="7.245000000000001" fill="#111" textLength="8.82" lengthAdjust="spacingAndGlyphs" stroke="#111" stroke-width="0.2">10</text>
<text x="287.45" y="236.90" font-size="4.968" fill="#111" textLength="7.40" lengthAdjust="spacingAndGlyphs" stroke="#111" stroke-width="0.14">−5</text>
<text x="438.44" y="224.40" font-size="7.3" fill="#000" textLength="79.33" lengthAdjust="spacingAndGlyphs" stroke="#000" stroke-width="0.2" font-weight="bold">Regression Slopes :</text>
<text x="438.44" y="233.60" font-size="7.245000000000001" fill="#111" textLength="4.82" lengthAdjust="spacingAndGlyphs" stroke="#111" stroke-width="0.25" font-style="italic">β</text>
<text x="442.62" y="235.30" font-size="5.5200000000000005" fill="#111" textLength="14.05" lengthAdjust="spacingAndGlyphs" font-style="italic">learn</text>
<text x="458.09" y="233.50" font-size="6.210000000000001" fill="#111" textLength="5.32" lengthAdjust="spacingAndGlyphs" stroke="#111" stroke-width="0.3">=</text>
<text x="465.34" y="233.80" font-size="7.245000000000001" fill="#111" textLength="15.72" lengthAdjust="spacingAndGlyphs" stroke="#111" stroke-width="0.2">4.05</text>
<text x="483.29" y="233.70" font-size="8.28" fill="#111" textLength="5.23" lengthAdjust="spacingAndGlyphs" stroke="#111" stroke-width="0.15">×</text>
<text x="490.74" y="233.80" font-size="7.245000000000001" fill="#111" textLength="8.82" lengthAdjust="spacingAndGlyphs" stroke="#111" stroke-width="0.2">10</text>
<text x="500.15" y="230.60" font-size="4.968" fill="#111" textLength="7.40" lengthAdjust="spacingAndGlyphs" stroke="#111" stroke-width="0.14">−5</text>
<text x="438.44" y="242.80" font-size="7.245000000000001" fill="#111" textLength="4.82" lengthAdjust="spacingAndGlyphs" stroke="#111" stroke-width="0.25" font-style="italic">β</text>
<text x="443.12" y="244.50" font-size="5.5200000000000005" fill="#111" textLength="12.25" lengthAdjust="spacingAndGlyphs" font-style="italic">train</text>
<text x="456.79" y="242.70" font-size="6.210000000000001" fill="#111" textLength="5.32" lengthAdjust="spacingAndGlyphs" stroke="#111" stroke-width="0.3">=</text>
<text x="464.04" y="243.00" font-size="7.245000000000001" fill="#111" textLength="15.72" lengthAdjust="spacingAndGlyphs" stroke="#111" stroke-width="0.2">1.92</text>
<text x="481.99" y="242.90" font-size="8.28" fill="#111" textLength="5.23" lengthAdjust="spacingAndGlyphs" stroke="#111" stroke-width="0.15">×</text>
<text x="489.44" y="243.00" font-size="7.245000000000001" fill="#111" textLength="8.82" lengthAdjust="spacingAndGlyphs" stroke="#111" stroke-width="0.2">10</text>
<text x="498.85" y="239.80" font-size="4.968" fill="#111" textLength="7.40" lengthAdjust="spacingAndGlyphs" stroke="#111" stroke-width="0.14">−5</text>
</svg></body></html>
